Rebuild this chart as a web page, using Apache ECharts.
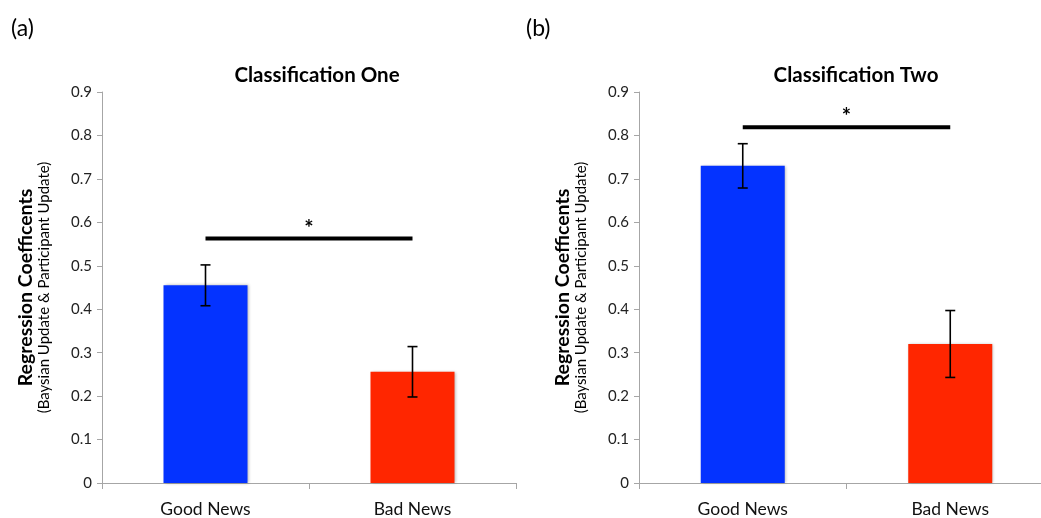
<!DOCTYPE html>
<html>
<head>
<meta charset="utf-8">
<script src="https://cdn.jsdelivr.net/npm/echarts@6/dist/echarts.min.js"></script>
<style>
html,body{margin:0;padding:0;background:#fff;overflow:hidden;width:1041px;height:518px;}
#c{width:1070px;height:518px;}
</style>
</head>
<body>
<div id="c"></div>
<script>
// ---- data ----
var categories = ['Good News', 'Bad News'];
var titles = ['Classification One', 'Classification Two'];
var panelLabels = ['(a)', '(b)'];
var oneMeans = [0.455, 0.256];
var oneErrors = [0.047, 0.058];
var twoMeans = [0.730, 0.320];
var twoErrors = [0.051, 0.077];
var sigOneLevel = 0.563;
var sigTwoLevel = 0.819;
var yTicks = [0, 0.1, 0.2, 0.3, 0.4, 0.5, 0.6, 0.7, 0.8, 0.9];
var barColors = ['#0433FF', '#FF2600'];

var FONT = 'Lato, "Open Sans", sans-serif';
var AXIS_COLOR = '#a6a6a6';

function barData(means) {
  return means.map(function (v, i) {
    return { value: v, itemStyle: { color: barColors[i] } };
  });
}
function errData(means, errs) {
  return means.map(function (v, i) { return [i, v, errs[i]]; });
}
function errRender(params, api) {
  var x = api.value(0), m = api.value(1), e = api.value(2);
  var top = api.coord([x, m + e]);
  var bot = api.coord([x, m - e]);
  var cap = 5;
  var style = { stroke: '#000', lineWidth: 1.6 };
  return {
    type: 'group',
    children: [
      { type: 'line', shape: { x1: top[0], y1: top[1], x2: bot[0], y2: bot[1] }, style: style },
      { type: 'line', shape: { x1: top[0] - cap, y1: top[1], x2: top[0] + cap, y2: top[1] }, style: style },
      { type: 'line', shape: { x1: bot[0] - cap, y1: bot[1], x2: bot[0] + cap, y2: bot[1] }, style: style }
    ]
  };
}
function sigRender(params, api) {
  var a = api.coord([api.value(0), api.value(2)]);
  var b = api.coord([api.value(1), api.value(2)]);
  return {
    type: 'group',
    children: [
      { type: 'line', shape: { x1: a[0], y1: a[1], x2: b[0], y2: b[1] }, style: { stroke: '#000', lineWidth: 4 } },
      { type: 'text', x: (a[0] + b[0]) / 2, y: a[1] - 10, style: { text: '*', font: 'bold 22px ' + FONT, fill: '#000', align: 'center', verticalAlign: 'middle' } }
    ]
  };
}

function yAxisCfg(gridIndex) {
  return {
    gridIndex: gridIndex,
    type: 'value',
    min: yTicks[0],
    max: yTicks[yTicks.length - 1],
    interval: 0.1,
    splitLine: { show: false },
    axisLine: { show: true, lineStyle: { color: AXIS_COLOR, width: 1 } },
    axisTick: { show: true, length: 5, lineStyle: { color: AXIS_COLOR } },
    axisLabel: {
      fontFamily: FONT, fontSize: 15, color: '#222', margin: 10,
      formatter: function (v) { return v === 0 ? '0' : v.toFixed(1); }
    },
    name: '{a|Regression Coefficents}\n{b|(Baysian Update & Participant Update)}',
    nameLocation: 'middle',
    nameRotate: 90,
    nameGap: 50,
    nameTextStyle: {
      align: 'center',
      rich: {
        a: { fontFamily: FONT, fontWeight: 'bold', fontSize: 19.5, color: '#000', lineHeight: 20, align: 'center' },
        b: { fontFamily: FONT, fontSize: 15, color: '#000', lineHeight: 16, align: 'center' }
      }
    }
  };
}
function xAxisCfg(gridIndex) {
  return {
    gridIndex: gridIndex,
    type: 'category',
    data: categories,
    boundaryGap: true,
    axisLine: { show: true, lineStyle: { color: AXIS_COLOR, width: 1 } },
    axisTick: { show: true, length: 6, alignWithLabel: false, lineStyle: { color: AXIS_COLOR } },
    axisLabel: { fontFamily: FONT, fontSize: 17.5, color: '#111', margin: 17 },
    splitLine: { show: false }
  };
}

var chart = echarts.init(document.getElementById('c'), null, { renderer: 'canvas' });
chart.setOption({
  backgroundColor: '#fff',
  animation: false,
  title: [
    { text: titles[0], left: 312, top: 60, textAlign: 'center', textStyle: { fontFamily: FONT, fontWeight: 'bold', fontSize: 20.5, color: '#000' } },
    { text: titles[1], left: 851, top: 60, textAlign: 'center', textStyle: { fontFamily: FONT, fontWeight: 'bold', fontSize: 20.5, color: '#000' } },
    { text: panelLabels[0], left: 6, top: 12, textStyle: { fontFamily: FONT, fontWeight: 'normal', fontSize: 23, color: '#000' } },
    { text: panelLabels[1], left: 521, top: 12, textStyle: { fontFamily: FONT, fontWeight: 'normal', fontSize: 23, color: '#000' } }
  ],
  grid: [
    { left: 102, top: 92, width: 414, height: 392.5 },
    { left: 639, top: 92, width: 415, height: 392.5 }
  ],
  xAxis: [xAxisCfg(0), xAxisCfg(1)],
  yAxis: [yAxisCfg(0), yAxisCfg(1)],
  series: [
    {
      type: 'bar', xAxisIndex: 0, yAxisIndex: 0, data: barData(oneMeans), barWidth: 84,
      itemStyle: { shadowBlur: 3, shadowColor: 'rgba(0,0,0,0.3)', shadowOffsetX: 1, shadowOffsetY: 0 }
    },
    {
      type: 'bar', xAxisIndex: 1, yAxisIndex: 1, data: barData(twoMeans), barWidth: 84,
      itemStyle: { shadowBlur: 3, shadowColor: 'rgba(0,0,0,0.3)', shadowOffsetX: 1, shadowOffsetY: 0 }
    },
    { type: 'custom', xAxisIndex: 0, yAxisIndex: 0, data: errData(oneMeans, oneErrors), renderItem: errRender, encode: { x: 0, y: 1 }, z: 5 },
    { type: 'custom', xAxisIndex: 1, yAxisIndex: 1, data: errData(twoMeans, twoErrors), renderItem: errRender, encode: { x: 0, y: 1 }, z: 5 },
    { type: 'custom', xAxisIndex: 0, yAxisIndex: 0, data: [[0, 1, sigOneLevel]], renderItem: sigRender, encode: { x: [0, 1], y: 2 }, z: 5 },
    { type: 'custom', xAxisIndex: 1, yAxisIndex: 1, data: [[0, 1, sigTwoLevel]], renderItem: sigRender, encode: { x: [0, 1], y: 2 }, z: 5 }
  ]
});
</script>
</body>
</html>
